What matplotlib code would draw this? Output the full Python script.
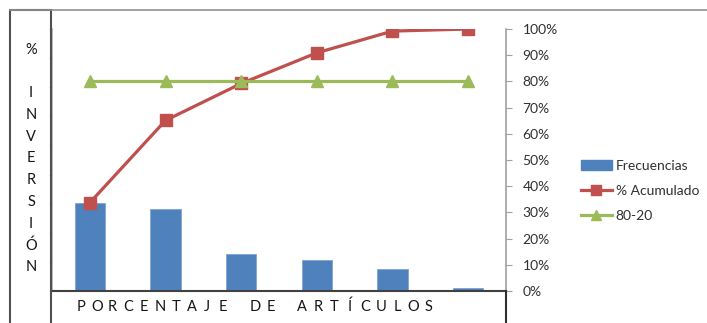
import matplotlib
matplotlib.use("Agg")
import matplotlib.pyplot as plt
import numpy as np
from matplotlib.ticker import PercentFormatter
from matplotlib.lines import Line2D
from matplotlib.patches import Rectangle

plt.rcParams['font.family'] = ['Lato', 'DejaVu Sans']

# data
categorias = ['1', '2', '3', '4', '5', '6']
frecuencias = [0.337, 0.314, 0.141, 0.117, 0.083, 0.013]
acumulado = [0.337, 0.651, 0.792, 0.909, 0.992, 1.0]
linea_80_20 = [0.8, 0.8, 0.8, 0.8, 0.8, 0.8]
y_ticks = [0, 0.1, 0.2, 0.3, 0.4, 0.5, 0.6, 0.7, 0.8, 0.9, 1.0]
titulo_y = "% INVERSIÓN"
titulo_x = "PORCENTAJE DE ARTÍCULOS"

W, H = 707, 323
fig = plt.figure(figsize=(W / 100, H / 100), dpi=100)

# plot area in pixels
x0, x1 = 52, 506
y0, y1 = 291, 29
ax = fig.add_axes([x0 / W, 1 - y0 / H, (x1 - x0) / W, (y0 - y1) / H])
ax2 = ax.twinx()

x = np.arange(len(categorias))
ax.bar(x, frecuencias, width=0.4, color='#4F81BD', edgecolor='#7FA3D3', linewidth=0.6, zorder=2)
ax.set_xlim(-0.5, len(categorias) - 0.5)
ax.set_ylim(0, 1)
ax.set_xticks([])
ax.set_yticks(np.linspace(0, 1, 10))
ax.tick_params(axis='y', direction='out', length=2, color='#d0d0d0', labelleft=False)
for s in ['top', 'right']:
    ax.spines[s].set_visible(False)
ax.spines['left'].set_color('#b0b0b0')
ax.spines['left'].set_linewidth(1.2)
ax.spines['bottom'].set_color('#404040')
ax.spines['bottom'].set_linewidth(1.5)

ax2.plot(x, acumulado, color='#C0504D', lw=2.3, marker='s', markersize=8, zorder=3)
ax2.plot(x, linea_80_20, color='#9BBB59', lw=2.3, marker='^', markersize=8, zorder=3)
ax2.set_ylim(0, 1)
ax2.set_yticks(y_ticks)
ax2.yaxis.set_major_formatter(PercentFormatter(1.0, decimals=0))
ax2.tick_params(axis='y', direction='out', length=4, color='#a0a0a0', pad=8,
                labelsize=10, labelcolor='#303030')
for s in ['top', 'left', 'bottom']:
    ax2.spines[s].set_visible(False)
ax2.spines['right'].set_color('#a0a0a0')
ax2.spines['right'].set_linewidth(1.2)

# frame lines around the chart
fig.add_artist(Line2D([10 / W, 1], [1 - 10 / H] * 2, color='#909090', lw=1.2))
fig.add_artist(Rectangle((10 / W, -0.1), 41 / W, 1.1 - 10 / H, fill=False,
                         edgecolor='#505050', lw=1.5))
fig.add_artist(Line2D([x1 / W] * 2, [0, 1 - y0 / H], color='#303030', lw=1.5))

# vertical title, one letter per row
for i, ch in enumerate(titulo_y):
    fig.text(31 / W, 1 - (50 + i * 21.7) / H, ch, ha='center', va='center',
             fontsize=10.5, color='#151515')

# spaced x title
for i, ch in enumerate(titulo_x):
    fig.text((81 + i * 15.8) / W, 1 - 307 / H, ch, ha='center', va='center',
             fontsize=10.5, color='#151515')

handles = [Rectangle((0, 0), 1, 1, color='#4F81BD'),
           Line2D([], [], color='#C0504D', lw=2.3, marker='s', markersize=6.5),
           Line2D([], [], color='#9BBB59', lw=2.3, marker='^', markersize=6.5)]
fig.legend(handles, ['Frecuencias', '% Acumulado', '80-20'], loc='center left',
           bbox_to_anchor=(574 / W, 1 - 191 / H), frameon=False, fontsize=10,
           handlelength=2.2, handletextpad=0.3, labelspacing=0.95, borderpad=0,
           labelcolor='#303030')

fig.savefig('out.png', dpi=100)
